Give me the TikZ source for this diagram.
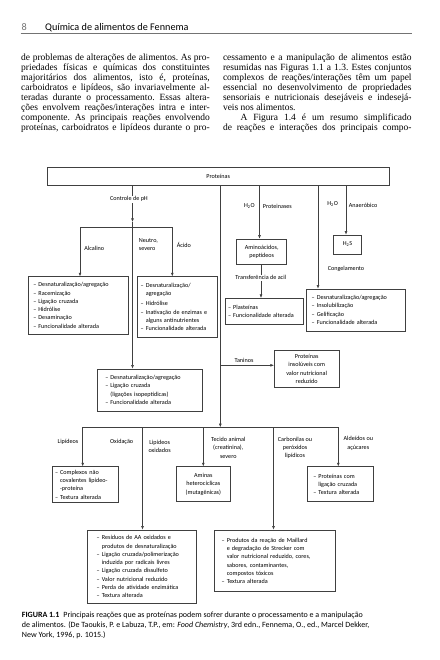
\documentclass[tikz,border=0pt]{standalone}
\usepackage{fontspec}
\setmainfont{Liberation Serif}
\newfontfamily\dsans{Carlito}
\usetikzlibrary{arrows.meta}
\newcommand{\jline}[1]{\hbox to 188.6pt{\frenchspacing\spaceskip=0.25em plus 0.8em minus 0.13em\relax #1}}
\newcommand{\hi}{\hphantom{– }}
\newcommand{\bl}[1]{\mbox{#1}}
\begin{document}
\begin{tikzpicture}[x=1pt,y=-1pt,
  every node/.style={inner sep=0pt},
  ln/.style={draw=black!75, line width=0.55pt},
  arr/.style={ln, -{Latex[length=3.6pt,width=2.8pt]}},
  dfont/.style={font=\dsans\fontsize{6.15}{8.25}\selectfont},
  box/.style={dfont, draw=black!75, line width=0.6pt, rectangle, inner ysep=0pt},
  lbox/.style={box, align=left},
  cbox/.style={box, align=center},
  lbl/.style={dfont, align=center},
  lblw/.style={dfont, align=center, fill=white, inner sep=1pt},
  body/.style={anchor=base west, font=\fontsize{9.5}{10}\selectfont},
  capt/.style={anchor=base west, font=\dsans\fontsize{8.0}{10}\selectfont}
]
\fill[white] (0,0) rectangle (439,660);
\useasboundingbox (0,0) rectangle (439,660);

% header
\node[anchor=base west, font=\dsans\fontsize{10.2}{11}\selectfont, text=black!55] (pg) at (21.5,30.5) {8};
\node[anchor=base west, font=\dsans\fontsize{10.2}{11}\selectfont] (hd) at (45,30.5) {Química de alimentos de Fennema};
\draw[line width=0.9pt, black!55] (20.7,33.6) -- (412.3,33.6);

% body text column 1
\node[body] (a1) at (21,60.2) {\jline{de problemas de alterações de alimentos. As pro-}};
\node[body] (a2) at (21,70.2) {\jline{priedades físicas e químicas dos constituintes}};
\node[body] (a3) at (21,80.4) {\jline{majoritários dos alimentos, isto é, proteínas,}};
\node[body] (a4) at (21,90.3) {\jline{carboidratos e lipídeos, são invariavelmente al-}};
\node[body] (a5) at (21,100.4) {\jline{teradas durante o processamento. Essas altera-}};
\node[body] (a6) at (21,110.5) {\jline{ções envolvem reações/interações intra e inter-}};
\node[body] (a7) at (21,120.5) {\jline{componente. As principais reações envolvendo}};
\node[body] (a8) at (21,130.6) {\jline{proteínas, carboidratos e lipídeos durante o pro-}};
% column 2
\node[body] (b1) at (222.8,60.2) {\jline{cessamento e a manipulação de alimentos estão}};
\node[body] (b2) at (222.8,70.2) {\jline{resumidas nas Figuras 1.1 a 1.3. Estes conjuntos}};
\node[body] (b3) at (222.8,80.4) {\jline{complexos de reações/interações têm um papel}};
\node[body] (b4) at (222.8,90.3) {\jline{essencial no desenvolvimento de propriedades}};
\node[body] (b5) at (222.8,100.4) {\jline{sensoriais e nutricionais desejáveis e indesejá-}};
\node[body] (b6) at (222.8,110.5) {veis nos alimentos.};
\node[body] (b7) at (222.8,120.5) {\jline{\hspace{17.5pt}A Figura 1.4 é um resumo simplificado}};
\node[body] (b8) at (222.8,130.6) {\jline{de reações e interações dos principais compo-}};

% boxes
\node[cbox, minimum width=341.7pt, minimum height=17.7pt] (prot) at (218.2,176.2) {Proteínas};
\node[cbox, minimum width=50pt, minimum height=25.3pt] (amino) at (261.7,251.7) {Aminoácidos,\\peptídeos};
\node[lbox, minimum width=78.3pt, text width=72.3pt, inner xsep=3pt, minimum height=25.7pt] (plast) at (264.2,311.2) {\bl{– Plasteínas}\\\bl{– Funcionalidade alterada}};
\node[cbox, minimum width=28.4pt, minimum height=19pt] (hs) at (347.5,244.5) {H\textsubscript{2}S};
\node[lbox, minimum width=98.3pt, text width=88.3pt, inner xsep=5pt, minimum height=42pt] (cong) at (355.85,310) {\bl{– Desnaturalização/agregação}\\\bl{– Insolubilização}\\\bl{– Gelificação}\\\bl{– Funcionalidade alterada}};
\node[lbox, minimum width=100pt, text width=90pt, inner xsep=5pt, minimum height=57.6pt] (alc) at (78.3,305.5) {\bl{– Desnaturalização/agregação}\\\bl{– Racemização}\\\bl{– Ligação cruzada}\\\bl{– Hidrólise}\\\bl{– Desaminação}\\\bl{– Funcionalidade alterada}};
\node[lbox, minimum width=80.4pt, text width=73.6pt, inner xsep=3.4pt, minimum height=60.6pt] (acid) at (177.5,307) {\bl{– Desnaturalização/}\\\bl{\hi agregação}\\[1.6pt]\bl{– Hidrólise}\\\bl{– Inativação de enzimas e}\\\bl{\hi alguns antinutrientes}\\\bl{– Funcionalidade alterada}};
\node[lbox, minimum width=105pt, text width=89.8pt, inner xsep=7.6pt, minimum height=42pt] (iso) at (150.2,390) {\bl{– Desnaturalização/agregação}\\\bl{– Ligação cruzada}\\\bl{\hi(ligações isopeptídicas)}\\\bl{– Funcionalidade alterada}};
\node[cbox, minimum width=64.7pt, minimum height=36.6pt] (tan) at (306.65,369) {Proteínas\\insolúveis com\\valor nutricional\\reduzido};
\node[lbox, minimum width=65.6pt, text width=61pt, inner xsep=2.3pt, minimum height=36pt] (comp) at (85.5,484.7) {\bl{– Complexos não}\\\bl{\hi covalentes lipídeo-}\\\bl{\hi -proteína}\\\bl{– Textura alterada}};
\node[cbox, minimum width=54.7pt, minimum height=35pt] (amin) at (203.35,484.2) {Aminas\\heterocíclicas\\(mutagênicas)};
\node[lbox, minimum width=65.6pt, text width=54.4pt, inner xsep=5.6pt, minimum height=35pt] (pcl) at (340.5,484.2) {\bl{– Proteínas com}\\\bl{\hi ligação cruzada}\\\bl{– Textura alterada}};
\node[lbox, minimum width=109.4pt, text width=90.6pt, inner xsep=9.4pt, minimum height=73.3pt] (res) at (142,566.65) {\bl{– Resíduos de AA oxidados e}\\\bl{\hi produtos de desnaturalização}\\\bl{– Ligação cruzada/polimerização}\\\bl{\hi induzida por radicais livres}\\\bl{– Ligação cruzada dissulfeto}\\\bl{– Valor nutricional reduzido}\\\bl{– Perda de atividade enzimática}\\\bl{– Textura alterada}};
\node[lbox, minimum width=121pt, text width=106.2pt, inner xsep=7.4pt, minimum height=61.7pt] (mai) at (274.8,560.85) {\bl{– Produtos da reação de Maillard}\\\bl{\hi e degradação de Strecker com}\\\bl{\hi valor nutricional reduzido, cores,}\\\bl{\hi sabores, contaminantes,}\\\bl{\hi compostos tóxicos}\\\bl{– Textura alterada}};

% connector coordinates
\coordinate (xph) at (132.5,222);
\coordinate (phL) at (80,227.3);
\coordinate (phR) at (172.3,227.3);
\coordinate (xP) at (259.5,0);
\coordinate (xT) at (261,0);
\coordinate (xG) at (318,0);
\coordinate (xA) at (346,0);
\coordinate (xC) at (220.3,427.3);
\coordinate (tn) at (220.3,365.3);
\coordinate (bL) at (82.7,427.3);
\coordinate (bR) at (338.3,427.3);
\coordinate (x2) at (142.5,427.3);
\coordinate (x3) at (203.3,427.3);
\coordinate (x4) at (273.5,427.3);

% connectors
\draw[arr] (xph |- prot.south) -- (xph);
\draw[ln] (phL) -- (phR);
\draw[arr] (phL) -- (phL |- alc.north);
\draw[arr] (phR) -- (phR |- acid.north);
\draw[arr] (xph) -- (xph |- iso.north);
\draw[arr] (xP |- prot.south) -- (xP |- amino.north);
\draw[arr] (xT |- amino.south) -- (xT |- plast.north);
\draw[arr] (xA |- prot.south) -- (xA |- hs.north);
\draw[arr] (xG |- prot.south) -- (xG |- cong.north);
\draw[arr] (xC |- prot.south) -- (xC);
\draw[arr] (tn) -- (tn -| tan.west);
\draw[ln] (bL) -- (bR);
\draw[arr] (bL) -- (bL |- comp.north);
\draw[arr] (x2) -- (x2 |- res.north);
\draw[arr] (x3) -- (x3 |- amin.north);
\draw[arr] (x4) -- (x4 |- mai.north);
\draw[arr] (bR) -- (bR |- pcl.north);

% labels
\node[lblw] (lph) at (129,199.3) {Controle de pH};
\node[lbl] (lalc) at (94.3,248.3) {Alcalino};
\node[lbl, anchor=west, align=left] (lneu) at (138.7,244.2) {Neutro,\\severo};
\node[lbl, anchor=west] (lac) at (176.7,245) {Ácido};
\node[lbl] (lh1) at (249.3,205.7) {H\textsubscript{2}O};
\node[lbl, anchor=west] (lpr) at (262.7,206) {Proteinases};
\node[lbl] (lh2) at (332.7,204.3) {H\textsubscript{2}O};
\node[lbl, anchor=west] (lan) at (348.7,205.7) {Anaeróbico};
\node[lblw] (ltr) at (260.8,277.7) {Transferência de acil};
\node[lbl] (lcg) at (346,268.7) {Congelamento};
\node[lbl] (ltn) at (244,360.3) {Taninos};
\node[lbl] (llp) at (68,442.3) {Lipídeos};
\node[lbl] (lox) at (121.7,442.3) {Oxidação};
\node[lbl] (llo) at (159.7,446.3) {Lipídeos\\oxidados};
\node[lbl] (lte) at (228.3,447.7) {Tecido animal\\(creatinina),\\severo};
\node[lbl] (lca) at (295,447.7) {Carbonilas ou\\peróxidos\\lipídicos};
\node[lbl] (lal) at (358.3,443.5) {Aldeídos ou\\açúcares};

% caption
\node[capt] (c1) at (21.7,617) {\textbf{FIGURA 1.1}\hspace{4pt}Principais reações que as proteínas podem sofrer durante o processamento e a manipulação};
\node[capt] (c2) at (21.7,627) {de alimentos. (De Taoukis, P. e Labuza, T.P., em: \textit{Food Chemistry}, 3rd edn., Fennema, O., ed., Marcel Dekker,};
\node[capt] (c3) at (21.7,637.2) {New York, 1996, p. 1015.)};
\end{tikzpicture}
\end{document}
